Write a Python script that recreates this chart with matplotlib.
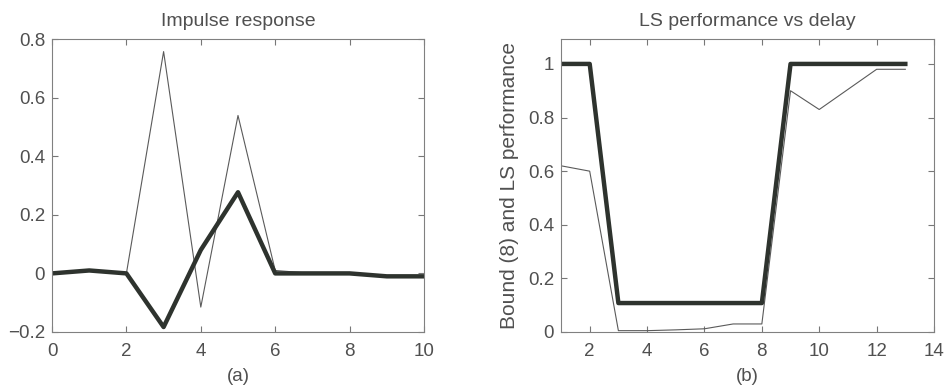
import matplotlib.pyplot as plt
import numpy as np

# impulse response data (panel a)
n_a = np.arange(0, 11)
thin_a = [0.0, 0.01, 0.0, 0.757, -0.115, 0.539, 0.01, 0.0, 0.0, -0.01, -0.01]
thick_a = [0.0, 0.01, 0.0, -0.183, 0.08, 0.277, 0.0, 0.0, 0.0, -0.01, -0.01]

# LS performance vs delay (panel b)
delay = np.arange(1, 14)
bound_b = [1.0, 1.0, 0.108, 0.108, 0.108, 0.108, 0.108, 0.108, 1.0, 1.0, 1.0, 1.0, 1.0]
ls_b = [0.62, 0.60, 0.005, 0.005, 0.008, 0.012, 0.03, 0.03, 0.90, 0.83, 0.905, 0.98, 0.98]

txt = '#505050'
plt.rcParams['font.family'] = ['Liberation Sans', 'DejaVu Sans']
plt.rcParams['font.size'] = 13.5

fig = plt.figure(figsize=(9.46, 3.9), dpi=100)
W, H = 946, 390
ax1 = fig.add_axes([52 / W, 1 - 332 / H, (424 - 52) / W, (332 - 39) / H])
ax2 = fig.add_axes([561 / W, 1 - 332 / H, (934 - 561) / W, (332 - 39) / H])

ax1.plot(n_a, thin_a, color='#5a5a5a', lw=0.8)
ax1.plot(n_a, thick_a, color='#2e332e', lw=3.2)
ax1.set_xlim(0, 10)
ax1.set_ylim(-0.2, 0.8)
ax1.set_xticks([0, 2, 4, 6, 8, 10])
ax1.set_yticks([-0.2, 0, 0.2, 0.4, 0.6, 0.8])
ax1.set_yticklabels(['\u22120.2', '0', '0.2', '0.4', '0.6', '0.8'])
ax1.set_title('Impulse response', color=txt, fontsize=14, pad=9)
ax1.set_xlabel('(a)', color=txt, labelpad=6)

ax2.plot(delay, ls_b, color='#5a5a5a', lw=0.8)
ax2.plot(delay, bound_b, color='#2e332e', lw=3.2)
ax2.set_xlim(1, 14)
ax2.set_ylim(0, 1.093)
ax2.set_xticks([2, 4, 6, 8, 10, 12, 14])
ax2.set_yticks([0, 0.2, 0.4, 0.6, 0.8, 1])
ax2.set_yticklabels(['0', '0.2', '0.4', '0.6', '0.8', '1'])
ax2.set_title('LS performance vs delay', color=txt, fontsize=14, pad=9)
ax2.set_xlabel('(b)', color=txt, labelpad=6)
ax2.set_ylabel('Bound (8) and LS performance', color=txt, fontsize=15, labelpad=6)

for ax in (ax1, ax2):
    ax.tick_params(direction='in', top=True, right=True, length=4,
                   colors='#777777', labelcolor=txt, labelsize=13.5)
    ax.tick_params(axis='x', pad=8)
    ax.tick_params(axis='y', pad=5)
    for s in ax.spines.values():
        s.set_color('#808080')
        s.set_linewidth(0.8)

fig.savefig('out.png', dpi=100)
